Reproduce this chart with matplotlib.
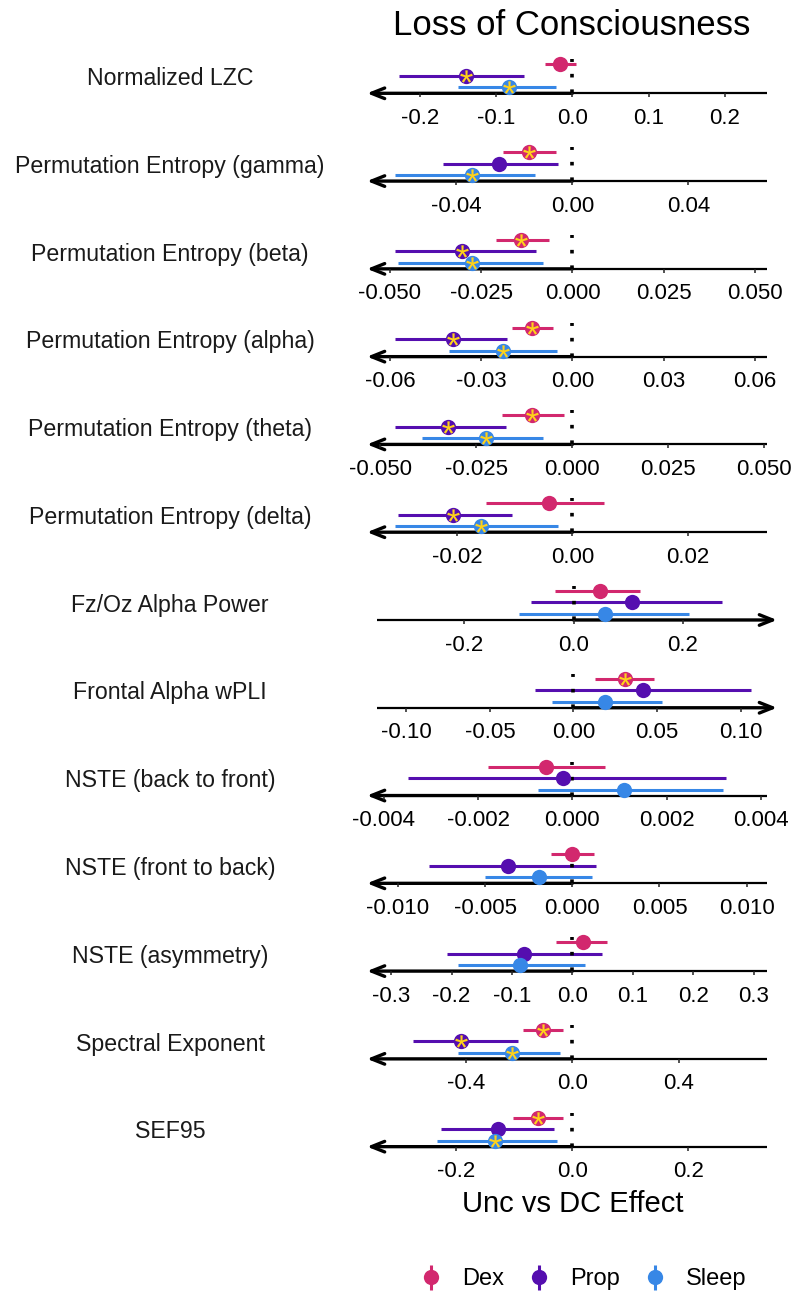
import matplotlib
matplotlib.use('Agg')
import matplotlib.pyplot as plt
from matplotlib.lines import Line2D
from matplotlib.legend_handler import HandlerTuple
from matplotlib.textpath import TextPath
from matplotlib.font_manager import FontProperties
from matplotlib.path import Path

plt.rcParams['font.family'] = ['Liberation Sans', 'DejaVu Sans']

# ---- data ----
measures = [
	"Normalized LZC",
	"Permutation Entropy (gamma)",
	"Permutation Entropy (beta)",
	"Permutation Entropy (alpha)",
	"Permutation Entropy (theta)",
	"Permutation Entropy (delta)",
	"Fz/Oz Alpha Power",
	"Frontal Alpha wPLI",
	"NSTE (back to front)",
	"NSTE (front to back)",
	"NSTE (asymmetry)",
	"Spectral Exponent",
	"SEF95",
]

dex_est = [-0.016, -0.0150, -0.0141, -0.0132, -0.0104, -0.0040, 0.048, 0.0311, -0.00056, 0.0, 0.018, -0.109, -0.060]
dex_lo = [-0.036, -0.0238, -0.0210, -0.0198, -0.0183, -0.0150, -0.034, 0.0128, -0.0018, -0.00123, -0.027, -0.187, -0.103]
dex_hi = [0.005, -0.0058, -0.0064, -0.0063, -0.0021, 0.0055, 0.122, 0.0479, 0.00069, 0.00126, 0.058, -0.034, -0.017]
dex_sig = [False, True, True, True, True, False, False, True, False, False, False, True, True]

prop_est = [-0.139, -0.0253, -0.0304, -0.0392, -0.0323, -0.0208, 0.107, 0.0419, -0.00019, -0.00368, -0.080, -0.417, -0.129]
prop_lo = [-0.227, -0.0445, -0.0486, -0.0583, -0.0462, -0.0304, -0.077, -0.0228, -0.00349, -0.00822, -0.208, -0.599, -0.226]
prop_hi = [-0.063, -0.0048, -0.0100, -0.0214, -0.0173, -0.0105, 0.271, 0.1062, 0.00325, 0.00134, 0.049, -0.203, -0.032]
prop_sig = [True, False, True, True, True, True, False, False, False, False, False, True, False]

sleep_est = [-0.083, -0.0345, -0.0276, -0.0229, -0.0226, -0.0159, 0.058, 0.0190, 0.00109, -0.0019, -0.087, -0.226, -0.134]
sleep_lo = [-0.150, -0.0611, -0.0477, -0.0407, -0.0391, -0.0308, -0.099, -0.0130, -0.00074, -0.00502, -0.189, -0.430, -0.233]
sleep_hi = [-0.021, -0.0129, -0.0081, -0.0052, -0.0076, -0.0026, 0.212, 0.0527, 0.00319, 0.00113, 0.021, -0.046, -0.026]
sleep_sig = [True, True, True, True, True, True, False, False, False, False, False, True, True]

# expected direction of the effect (arrow side)
arrow_dir = [-1, -1, -1, -1, -1, -1, 1, 1, -1, -1, -1, -1, -1]

x_limits = [
	(-0.269, 0.255), (-0.0708, 0.0671), (-0.0563, 0.0533), (-0.0675, 0.064),
	(-0.0535, 0.0507), (-0.0357, 0.0338), (-0.3596, 0.3724), (-0.1176, 0.1218),
	(-0.00436, 0.00413), (-0.01178, 0.01117), (-0.340, 0.322), (-0.772, 0.732),
	(-0.354, 0.3355),
]

tick_labels = [
	["-0.2", "-0.1", "0.0", "0.1", "0.2"],
	["-0.04", "0.00", "0.04"],
	["-0.050", "-0.025", "0.000", "0.025", "0.050"],
	["-0.06", "-0.03", "0.00", "0.03", "0.06"],
	["-0.050", "-0.025", "0.000", "0.025", "0.050"],
	["-0.02", "0.00", "0.02"],
	["-0.2", "0.0", "0.2"],
	["-0.10", "-0.05", "0.00", "0.05", "0.10"],
	["-0.004", "-0.002", "0.000", "0.002", "0.004"],
	["-0.010", "-0.005", "0.000", "0.005", "0.010"],
	["-0.3", "-0.2", "-0.1", "0.0", "0.1", "0.2", "0.3"],
	["-0.4", "0.0", "0.4"],
	["-0.2", "0.0", "0.2"],
]

groups = ["Dex", "Prop", "Sleep"]
colors = {"Dex": "#D2286E", "Prop": "#550EAF", "Sleep": "#3787E6"}
STAR = "#FFD21A"

# ---- layout (pixels) ----
W, H = 793, 1293
FIRST_AXIS_Y = 93.3
STEP = 87.78
ROW_Y = {"Dex": 29, "Prop": 17.5, "Sleep": 6}


def asterisk_marker():
	'''
	Font asterisk as a centred marker path.
	'''
	tp = TextPath((0, 0), "*", size=10, prop=FontProperties(family='Liberation Sans'))
	ext = tp.get_extents()
	cx = (ext.x0 + ext.x1) / 2
	cy = (ext.y0 + ext.y1) / 2
	verts = tp.vertices.copy()
	verts[:, 0] -= cx
	verts[:, 1] -= cy
	# closepoly vertices are ignored when drawing but count for marker scaling
	verts[tp.codes == Path.CLOSEPOLY] = 0
	return Path(verts, tp.codes)


STAR_MARKER = asterisk_marker()


def draw_axis_line(ax, xmin, xmax, direction):
	'''
	Thick arrow towards the expected direction, thin line on the other side.
	'''
	tip, other = (xmin, xmax) if direction < 0 else (xmax, xmin)
	ax.plot([0, other], [0, 0], color='black', lw=1.6, clip_on=False, zorder=1,
			solid_capstyle='butt')
	ax.annotate('', xy=(tip, 0), xytext=(0, 0), annotation_clip=False,
				arrowprops=dict(arrowstyle='->,head_length=0.95,head_width=0.38',
								color='black', lw=2.4, shrinkA=0, shrinkB=0,
								mutation_scale=10), zorder=1)


def draw_panel(fig, i):
	left = 377 if arrow_dir[i] > 0 else 367
	y_axis = FIRST_AXIS_Y + STEP * i
	ax = fig.add_axes([left / W, 1 - y_axis / H, 400 / W, 40 / H])
	ax.patch.set_alpha(0)
	xmin, xmax = x_limits[i]
	ax.set_xlim(xmin, xmax)
	ax.set_ylim(0, 40)
	for s in ax.spines.values():
		s.set_visible(False)
	ax.set_yticks([])
	ticks = [float(t) for t in tick_labels[i]]
	ax.set_xticks(ticks, tick_labels[i])
	ax.tick_params(axis='x', length=3, width=1.1, pad=7.5, labelsize=16, color='#222222')

	draw_axis_line(ax, xmin, xmax, arrow_dir[i])
	ax.plot([0, 0], [0, 34], color='black', lw=2.6, linestyle=(0, (1, 3.3)),
			clip_on=False, zorder=2.5)

	data = {
		"Dex": (dex_est, dex_lo, dex_hi, dex_sig),
		"Prop": (prop_est, prop_lo, prop_hi, prop_sig),
		"Sleep": (sleep_est, sleep_lo, sleep_hi, sleep_sig),
	}
	for g in groups:
		est, lo, hi, sig = data[g]
		y = ROW_Y[g]
		c = colors[g]
		ax.plot([lo[i], hi[i]], [y, y], color=c, lw=2.2, solid_capstyle='butt',
				clip_on=False, zorder=2)
		ax.plot([est[i]], [y], 'o', ms=11, color=c, mew=0, clip_on=False, zorder=3)
		if sig[i]:
			ax.plot([est[i]], [y], linestyle='', marker=STAR_MARKER, ms=9, mfc=STAR,
					mec='none', mew=0, clip_on=False, zorder=4)

	fig.text(170 / W, 1 - (y_axis - 8.3) / H, measures[i], ha='center', va='baseline',
			fontsize=16.7, color='#1a1a1a')


def main():
	fig = plt.figure(figsize=(W / 100, H / 100), dpi=100)
	for i in range(len(measures)):
		draw_panel(fig, i)

	fig.text(572 / W, 1 - 35 / H, "Loss of Consciousness", ha='center', va='baseline',
			fontsize=25)
	fig.text(573 / W, 1 - 1212 / H, "Unc vs DC Effect", ha='center', va='baseline',
			fontsize=21)

	handles = []
	for g in groups:
		bar = Line2D([], [], linestyle='', marker='|', ms=18, mew=2.2, color=colors[g])
		dot = Line2D([], [], linestyle='', marker='o', ms=11, mew=0, color=colors[g])
		handles.append((bar, dot))
	fig.legend(handles, groups, handler_map={tuple: HandlerTuple(ndivide=1)},
			ncol=3, loc='center', bbox_to_anchor=(583 / W, 1 - 1279 / H),
			frameon=False, fontsize=17, handlelength=1.0, handletextpad=0.8,
			columnspacing=1.0)

	fig.savefig("out.png", dpi=100)
	plt.close(fig)


if __name__ == "__main__":
	main()
